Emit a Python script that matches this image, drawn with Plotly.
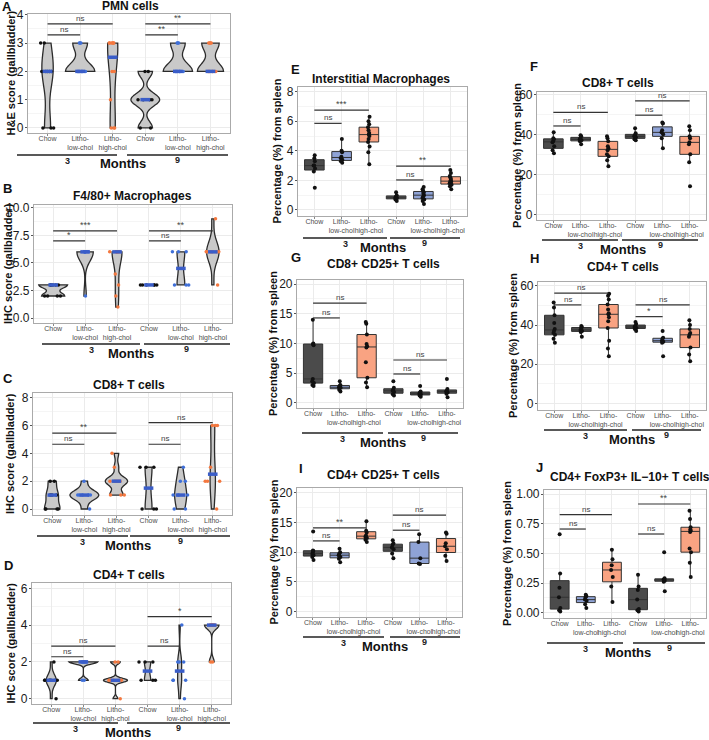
import numpy as np
import plotly.graph_objects as go

W, H = 709, 740
FONT = "Liberation Sans, Arial, sans-serif"

# ---------------- data ----------------
groups = ["Chow", "Litho-low-chol", "Litho-high-chol", "Chow", "Litho-low-chol", "Litho-high-chol"]
tick_text = ["Chow", "Litho-<br>low-chol", "Litho-<br>high-chol", "Chow", "Litho-<br>low-chol", "Litho-<br>high-chol"]
month_labels = ["3", "9"]
diet = ["chow", "low", "high", "chow", "low", "high"]
sig_pairs = [(1, 2), (1, 3), (4, 5), (4, 6)]

# A  PMN cells, H&E score
pmn_score = [
    [3, 3, 2, 2, 2, 2, 2, 0, 0, 0],
    [3, 3, 3, 2, 2, 2, 2, 2, 2],
    [3, 3, 3, 3, 3, 3, 2, 2, 1, 0, 0, 0],
    [2, 2, 1, 1, 1, 1, 0, 0],
    [3, 3, 3, 2, 2, 2, 2, 2, 2],
    [3, 3, 3, 3, 2, 2, 2, 2, 2, 2],
]
pmn_sig = ["ns", "ns", "**", "**"]
pmn_sig_y = [3.29, 3.68, 3.29, 3.68]

# B  F4/80+ macrophages, IHC score
f480_score = [
    [3, 3, 3, 3, 3, 2, 2, 2, 2],
    [6, 6, 6, 6, 6, 6, 6, 2],
    [6, 6, 6, 6, 6, 6, 6, 4, 3, 2, 1],
    [3, 3, 3, 3, 3, 3],
    [6, 6, 6, 3, 3, 3],
    [9, 6, 6, 6, 6, 6, 6, 3],
]
f480_sig = ["*", "***", "ns", "**"]
f480_sig_y = [7.0, 7.9, 7.0, 7.9]

# C  CD8+ T cells, IHC score
cd8_score = [
    [2, 2, 1, 1, 1, 0, 0, 0, 0],
    [2, 1, 1, 1, 1, 1, 0],
    [4, 3, 2, 2, 2, 2, 2, 1, 1, 1],
    [3, 3, 3, 0, 0, 0],
    [3, 2, 2, 1, 1, 1, 0, 0],
    [6, 6, 6, 3, 2, 2, 2, 0],
]
cd8_sig = ["ns", "**", "ns", "ns"]
cd8_sig_y = [4.65, 5.45, 4.65, 6.2]

# D  CD4+ T cells, IHC score
cd4_score = [
    [2, 1, 1, 1, 1, 1, 1, 0],
    [2, 2, 2, 2, 2, 2, 1, 1],
    [2, 2, 1, 1, 1, 1, 1, 0],
    [2, 2, 2, 1, 1, 1],
    [4, 2, 2, 2, 1, 1, 1, 0],
    [4, 4, 4, 4, 4, 4, 2, 2],
]
cd4_sig = ["ns", "ns", "ns", "*"]
cd4_sig_y = [2.28, 2.86, 2.86, 4.46]

# E  Interstitial macrophages, % from spleen
im_pct = [
    [1.5, 2.6, 2.8, 3.0, 3.0, 3.3, 3.5, 3.7],
    [3.2, 3.3, 3.4, 3.5, 3.6, 3.9, 4.0, 4.8],
    [3.1, 3.9, 4.3, 4.6, 4.8, 5.0, 5.1, 5.2, 5.4, 5.6, 5.8, 6.0, 6.3],
    [0.6, 0.7, 0.8, 0.8, 0.9, 1.0, 1.2],
    [0.4, 0.6, 0.7, 0.8, 0.9, 1.0, 1.1, 1.2, 1.3, 1.4, 1.55],
    [1.4, 1.6, 1.7, 1.8, 1.9, 1.9, 2.0, 2.1, 2.2, 2.3, 2.5, 2.7],
]
im_sig = ["ns", "***", "ns", "**"]
im_sig_y = [5.86, 6.76, 2.03, 2.97]

# F  CD8+ T cells, % from spleen
cd8_pct = [
    [30.5, 32, 34, 36, 36.5, 37.5, 38, 41],
    [35, 36.5, 37, 37.5, 38, 39, 39.5],
    [24, 27, 29, 30, 32, 33, 34, 36.5, 38, 39],
    [37, 37.5, 38.5, 39, 39.5, 40.5, 43],
    [33, 38, 40, 41, 42, 45.5, 46],
    [14, 26, 30, 35, 36, 38, 39, 42, 44],
]
cd8_pct_sig = ["ns", "ns", "ns", "ns"]
cd8_pct_sig_y = [44.2, 51.0, 49.6, 56.8]

# G  CD8+ CD25+ T cells, % from spleen
cd8cd25_pct = [
    [2.8, 3.0, 3.3, 3.6, 4.0, 9.7, 9.9, 10.0, 14.0],
    [1.9, 2.2, 2.5, 2.6, 2.8, 3.0, 3.6],
    [2.6, 3.4, 4.2, 6.8, 9.3, 9.5, 9.9, 11.5, 13.3, 13.6],
    [1.2, 1.4, 1.8, 2.0, 2.2, 2.5, 3.6],
    [1.0, 1.2, 1.4, 1.5, 1.7, 1.9, 2.8],
    [0.9, 1.5, 1.7, 1.9, 2.0, 2.3, 4.0],
]
cd8cd25_sig = ["ns", "ns", "ns", "ns"]
cd8cd25_sig_y = [14.3, 16.8, 4.84, 7.2]

# H  CD4+ T cells, % from spleen
cd4_pct = [
    [31, 33, 35, 36, 37, 38, 41, 45, 49, 51.5],
    [34, 36.5, 37, 37.5, 38.5, 39, 39.5],
    [24, 28, 32, 38.5, 42, 44, 45.5, 46, 48, 50.5, 53, 55, 56],
    [37, 38, 38.5, 39, 39.5, 40.5, 41.5],
    [24, 31, 31.5, 32, 33, 33.5, 37],
    [21.5, 25, 28.5, 34, 35, 36, 38, 40, 42.5],
]
cd4_pct_sig = ["ns", "ns", "*", "ns"]
cd4_pct_sig_y = [50.3, 56.3, 44.3, 50.3]

# I  CD4+ CD25+ T cells, % from spleen
cd4cd25_pct = [
    [8.7, 9.2, 9.5, 9.7, 9.9, 10.2, 10.3, 13.5],
    [8.3, 8.9, 9.2, 9.5, 9.8, 10.0, 10.6],
    [11.7, 12.1, 12.4, 12.6, 12.8, 13.3, 13.6, 15.2],
    [9.0, 9.8, 10.5, 10.8, 11.2, 11.5, 12.0],
    [8.0, 8.1, 9.0, 11.7, 13.0],
    [8.5, 9.4, 10.5, 11.0, 11.5, 13.1, 13.3],
]
cd4cd25_sig = ["ns", "**", "ns", "ns"]
cd4cd25_sig_y = [11.9, 14.1, 13.7, 16.25]

# J  CD4+ FoxP3+ IL-10+ T cells, % from spleen
treg_pct = [
    [0.01, 0.02, 0.04, 0.13, 0.21, 0.33, 0.66],
    [0.04, 0.07, 0.10, 0.11, 0.13, 0.14, 0.15],
    [0.09, 0.22, 0.30, 0.36, 0.40, 0.45, 0.53],
    [0.01, 0.02, 0.03, 0.11, 0.19, 0.22, 0.32],
    [0.18, 0.26, 0.27, 0.28, 0.28, 0.29, 0.51],
    [0.30, 0.42, 0.51, 0.54, 0.68, 0.69, 0.70, 0.72, 0.79, 0.86],
]
treg_sig = ["ns", "ns", "ns", "**"]
treg_sig_y = [0.705, 0.826, 0.663, 0.916]

# ---------------- styles ----------------
point_col = {"chow": "#111111", "low": "#3f6fd8", "high": "#f4783f"}
DARK, BLUE, ORANGE = "#4b4b4b", "#8fa3d6", "#f9a382"
median_blue = "#3a5dc8"

panels = [
    dict(letter="A", kind="violin", vals=pmn_score, sig=pmn_sig, sig_y=pmn_sig_y,
         title="PMN cells", ytitle="H&E score (gallbladder)", yrange=[-0.18, 4.03], dtick=1, fmt="",
         dom=(28, 230, 14, 133), title_xy=(130, 6), letter_xy=(7, 6), ytitle_x=10,
         months=(155, 17, 117, 127, 228, 123)),
    dict(letter="B", kind="violin", vals=f480_score, sig=f480_sig, sig_y=f480_sig_y,
         title="F4/80+ Macrophages", ytitle="IHC score (gallbladder)", yrange=[-0.45, 10.25], dtick=2.5, fmt=".1f",
         dom=(34, 232, 205, 323), title_xy=(132, 196), letter_xy=(7, 189), ytitle_x=8,
         months=(344, 42, 140, 144, 230, 131)),
    dict(letter="C", kind="violin", vals=cd8_score, sig=cd8_sig, sig_y=cd8_sig_y,
         title="CD8+ T cells", ytitle="IHC score (gallbladder)", yrange=[-0.43, 8.33], dtick=2, fmt="",
         dom=(33, 232, 393, 515), title_xy=(129, 385), letter_xy=(8, 378), ytitle_x=10,
         months=(536, 37, 128, 130, 230, 128)),
    dict(letter="D", kind="violin", vals=cd4_score, sig=cd4_sig, sig_y=cd4_sig_y,
         title="CD4+ T cells", ytitle="IHC score (gallbladder)", yrange=[-0.29, 6.29], dtick=2, fmt="",
         dom=(32, 231, 583, 704), title_xy=(129, 575), letter_xy=(8, 565), ytitle_x=10,
         months=(723, 33, 118, 127, 230, 128)),
    dict(letter="E", kind="box", vals=im_pct, sig=im_sig, sig_y=im_sig_y,
         title="Interstitial Macrophages", ytitle="Percentage (%) from spleen", yrange=[-0.41, 8.32], dtick=2, fmt="",
         dom=(298, 467, 87, 216), title_xy=(381, 79), letter_xy=(295, 69), ytitle_x=277,
         months=(238, 303, 387, 390, 460, 383),
         fills=[DARK, BLUE, ORANGE, DARK, BLUE, ORANGE]),
    dict(letter="F", kind="box", vals=cd8_pct, sig=cd8_pct_sig, sig_y=cd8_pct_sig_y,
         title="CD8+ T cells", ytitle="Percentage (%) from spleen", yrange=[-2.85, 61.2], dtick=20, fmt="",
         dom=(537, 706, 92, 220), title_xy=(618, 83), letter_xy=(534, 67), ytitle_x=517,
         months=(240, 542, 618, 622, 698, 623),
         fills=[DARK, DARK, ORANGE, DARK, BLUE, ORANGE]),
    dict(letter="G", kind="box", vals=cd8cd25_pct, sig=cd8cd25_sig, sig_y=cd8cd25_sig_y,
         title="CD8+ CD25+ T cells", ytitle="Percentage (%) from spleen", yrange=[-0.9, 20.7], dtick=5, fmt="",
         dom=(297, 463, 280, 408), title_xy=(383, 264), letter_xy=(296, 257), ytitle_x=273,
         months=(433, 302, 383, 388, 458, 383),
         fills=[DARK, BLUE, ORANGE, DARK, DARK, DARK]),
    dict(letter="H", kind="box", vals=cd4_pct, sig=cd4_pct_sig, sig_y=cd4_pct_sig_y,
         title="CD4+ T cells", ytitle="Percentage (%) from spleen", yrange=[-3.4, 62], dtick=20, fmt="",
         dom=(538, 706, 282, 410), title_xy=(623, 267), letter_xy=(534, 258), ytitle_x=513,
         months=(430, 544, 627, 632, 701, 632),
         fills=[DARK, DARK, ORANGE, DARK, BLUE, ORANGE]),
    dict(letter="I", kind="box", vals=cd4cd25_pct, sig=cd4cd25_sig, sig_y=cd4cd25_sig_y,
         title="CD4+ CD25+ T cells", ytitle="Percentage (%) from spleen", yrange=[-0.9, 20.8], dtick=5, fmt="",
         dom=(297, 462, 488, 617), title_xy=(383, 475), letter_xy=(301, 468), ytitle_x=273,
         months=(637, 303, 384, 390, 460, 385),
         fills=[DARK, BLUE, ORANGE, DARK, BLUE, ORANGE]),
    dict(letter="J", kind="box", vals=treg_pct, sig=treg_sig, sig_y=treg_sig_y,
         title="CD4+ FoxP3+ IL\u221210+ T cells", ytitle="Percentage (%) from spleen", yrange=[-0.045, 1.034], dtick=0.25, fmt=".2f",
         dom=(544, 706, 490, 618), title_xy=(630, 477), letter_xy=(539, 467), ytitle_x=507,
         months=(643, 547, 623, 633, 705, 628),
         fills=[DARK, BLUE, ORANGE, DARK, DARK, ORANGE]),
]


def px_x(x):
    return x / W


def px_y(y):
    return 1 - y / H


def bw_nrd0(v):
    v = np.asarray(v, dtype=float)
    hi = v.std(ddof=1) if len(v) > 1 else 0.0
    iqr = np.percentile(v, 75) - np.percentile(v, 25)
    lo = min(hi, iqr / 1.34)
    if not lo:
        lo = hi or abs(v[0]) or 1.0
    return 0.9 * lo * len(v) ** -0.2


fig = go.Figure()
layout = dict(template="none", width=W, height=H, margin=dict(l=0, r=0, t=0, b=0, pad=0, autoexpand=False),
              paper_bgcolor="white", plot_bgcolor="white", showlegend=False,
              font=dict(family=FONT, color="#222"), violinmode="overlay", boxmode="overlay",
              violingap=0.1, violingroupgap=0.0)
shapes, annotations = [], []
positions = list(range(1, len(groups) + 1))


def note(x, y, text, size, color="#111", **kw):
    d = dict(xref="paper", yref="paper", x=px_x(x), y=px_y(y), text=text, showarrow=False,
             xanchor="center", yanchor="middle", font=dict(size=size, color=color))
    d.update(kw)
    annotations.append(d)


for i, p in enumerate(panels):
    n = i + 1
    xa, ya = f"x{n}", f"y{n}"
    xkey = "xaxis" if n == 1 else f"xaxis{n}"
    ykey = "yaxis" if n == 1 else f"yaxis{n}"
    pl, pr, pt, pb = p["dom"]
    layout[xkey] = dict(domain=[px_x(pl), px_x(pr)], anchor=ya, range=[0.4, 6.6], automargin=False,
                        tickmode="array", tickvals=positions, ticktext=tick_text, tickangle=0,
                        tickfont=dict(size=7, color="#4d4d4d"), ticks="outside", ticklen=2,
                        ticklabelstandoff=-4,
                        tickcolor="#888", showgrid=True, gridcolor="#ebebeb", zeroline=False,
                        showline=True, mirror=True, linecolor="#aaaaaa", linewidth=1.2)
    layout[ykey] = dict(domain=[px_y(pb), px_y(pt)], anchor=xa, range=p["yrange"], automargin=False,
                        dtick=p["dtick"], tick0=0, tickformat=p["fmt"],
                        tickfont=dict(size=12, color="#1a1a1a"), ticks="outside", ticklen=2,
                        ticklabelstandoff=-1,
                        tickcolor="#555", showgrid=True, gridcolor="#ebebeb", zeroline=False,
                        minor=dict(dtick=p["dtick"] / 2, showgrid=True, gridcolor="#f5f5f5"),
                        showline=True, mirror=True, linecolor="#aaaaaa", linewidth=1.2)

    for g, (pos, vals) in enumerate(zip(positions, p["vals"])):
        col = point_col[diet[g]]
        if p["kind"] == "violin":
            flat = float(np.ptp(vals)) == 0.0
            fig.add_trace(go.Violin(
                x=[pos] * len(vals), y=vals, xaxis=xa, yaxis=ya,
                bandwidth=bw_nrd0(vals), spanmode="hard",
                scalemode="width", scalegroup=p["letter"], name=p["letter"],
                fillcolor="rgba(0,0,0,0)" if flat else "#c9c9c9",
                line=dict(color="#2b2b2b", width=0 if flat else 1.3),
                points="all", pointpos=0, jitter=0.7,
                marker=dict(color=col, size=3.5), opacity=1,
                box_visible=False, meanline_visible=False, hoveron="points"))
            med = float(np.median(vals))
            fig.add_trace(go.Scatter(
                x=[pos - 0.15, pos + 0.15], y=[med, med], xaxis=xa, yaxis=ya,
                mode="lines", line=dict(color=median_blue, width=3.5), hoverinfo="skip"))
        else:
            fig.add_trace(go.Box(
                x=[pos] * len(vals), y=vals, xaxis=xa, yaxis=ya,
                width=0.72, fillcolor=p["fills"][g], line=dict(color="#333333", width=1),
                whiskerwidth=0, boxpoints="all", pointpos=0, jitter=0.12,
                quartilemethod="inclusive",
                marker=dict(color="#111111", size=4)))

    # significance bars
    for (a, b), txt, yv in zip(sig_pairs, p["sig"], p["sig_y"]):
        shapes.append(dict(type="line", xref=xa, yref=ya, x0=a, x1=b, y0=yv, y1=yv,
                           line=dict(color="#333333", width=1.2)))
        annotations.append(dict(xref=xa, yref=ya, x=(a + b) / 2, y=yv, text=txt,
                                showarrow=False, xanchor="center", yanchor="bottom",
                                font=dict(size=8 if txt == "ns" else 9, color="#444"), yshift=-1))

    # month decorations
    ly, a0, a1, b0, b1, mx = p["months"]
    for x0, x1, lab, dy in ((a0, a1, month_labels[0], 6), (b0, b1, month_labels[1], 5)):
        shapes.append(dict(type="line", xref="paper", yref="paper", x0=px_x(x0), x1=px_x(x1),
                           y0=px_y(ly), y1=px_y(ly), line=dict(color="#222", width=1.3)))
        note((x0 + x1) / 2, ly + dy, f"<b>{lab}</b>", 9, "#222")
    note(mx, ly + 9, "<b>Months</b>", 13)

    # titles, letters, y titles
    tx, ty = p["title_xy"]
    note(tx, ty, f"<b>{p['title']}</b>", 12)
    lx, lyy = p["letter_xy"]
    note(lx, lyy, f"<b>{p['letter']}</b>", 13)
    note(p["ytitle_x"], (pt + pb) / 2, f"<b>{p['ytitle']}</b>", 11, textangle=-90)

layout["shapes"] = shapes
layout["annotations"] = annotations
fig.update_layout(**layout)
fig.write_html("out.html", config={"displayModeBar": False},
               post_script="document.body.style.margin='0px';")
